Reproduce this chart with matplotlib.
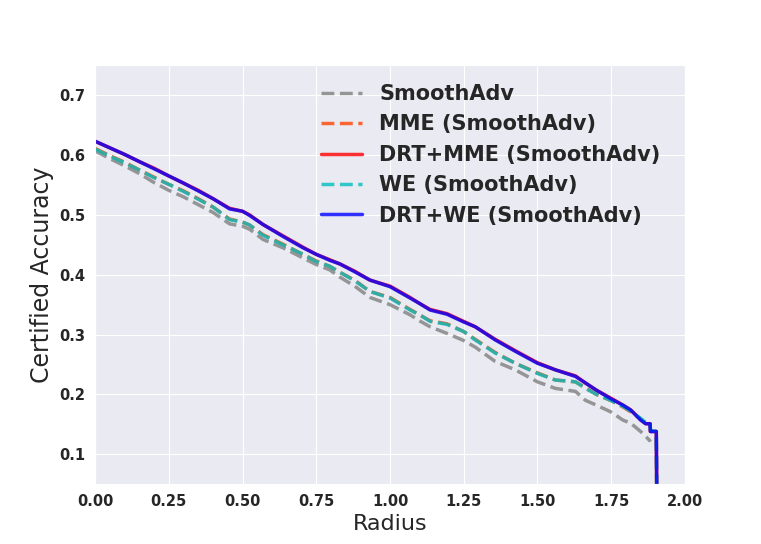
import numpy as np
import matplotlib
matplotlib.use('Agg')
import matplotlib.pyplot as plt
import seaborn as sns

sns.set_style('darkgrid')

# radius points
radius = [0.00, 0.05, 0.10, 0.15, 0.20, 0.25, 0.30, 0.35, 0.40, 0.456,
          0.50, 0.524, 0.569, 0.637, 0.705, 0.75, 0.796, 0.83, 0.88, 0.932,
          1.00, 1.068, 1.10, 1.136, 1.193, 1.25, 1.289, 1.357, 1.425, 1.50,
          1.561, 1.629, 1.663, 1.70, 1.748, 1.79, 1.816, 1.85, 1.867, 1.882,
          1.883, 1.903, 1.905]

smoothadv = [0.607, 0.594, 0.582, 0.569, 0.554, 0.541, 0.530, 0.517, 0.504, 0.485,
             0.481, 0.476, 0.459, 0.445, 0.428, 0.417, 0.408, 0.396, 0.381, 0.362,
             0.350, 0.333, 0.323, 0.313, 0.302, 0.290, 0.279, 0.255, 0.241, 0.221,
             0.210, 0.205, 0.190, 0.182, 0.171, 0.157, 0.152, 0.138, 0.130, 0.122,
             0.121, np.nan, np.nan]

we = [0.610, 0.598, 0.587, 0.575, 0.562, 0.551, 0.539, 0.526, 0.513, 0.492,
      0.488, 0.483, 0.466, 0.450, 0.434, 0.422, 0.414, 0.404, 0.390, 0.372,
      0.361, 0.341, 0.333, 0.322, 0.317, 0.305, 0.291, 0.269, 0.252, 0.235,
      0.224, 0.221, 0.210, 0.200, 0.190, 0.180, 0.172, 0.160, 0.153, 0.153,
      0.140, 0.138, 0.0]

mme = [0.611, 0.599, 0.588, 0.575, 0.563, 0.551, 0.540, 0.527, 0.513, 0.493,
       0.488, 0.483, 0.467, 0.451, 0.434, 0.423, 0.414, 0.404, 0.391, 0.372,
       0.362, 0.342, 0.333, 0.323, 0.318, 0.305, 0.292, 0.270, 0.252, 0.236,
       0.224, 0.221, 0.211, 0.200, 0.190, 0.179, 0.171, 0.159, 0.152, 0.152,
       0.139, 0.138, 0.0]

drt_we = [0.623, 0.612, 0.601, 0.589, 0.577, 0.565, 0.553, 0.540, 0.527, 0.510,
          0.506, 0.499, 0.484, 0.464, 0.445, 0.434, 0.424, 0.418, 0.405, 0.391,
          0.380, 0.361, 0.352, 0.341, 0.334, 0.321, 0.313, 0.291, 0.272, 0.252,
          0.241, 0.230, 0.219, 0.207, 0.193, 0.182, 0.174, 0.157, 0.151, 0.151,
          0.138, 0.138, 0.0]

drt_mme = [0.623, 0.612, 0.601, 0.589, 0.578, 0.565, 0.553, 0.541, 0.527, 0.511,
           0.506, 0.500, 0.484, 0.465, 0.446, 0.434, 0.425, 0.418, 0.406, 0.391,
           0.381, 0.362, 0.352, 0.342, 0.335, 0.322, 0.313, 0.292, 0.273, 0.253,
           0.241, 0.231, 0.219, 0.207, 0.194, 0.182, 0.174, 0.158, 0.151, 0.151,
           0.138, 0.138, 0.0]

fig = plt.figure(figsize=(7.61, 5.44), dpi=100)
ax = fig.add_subplot(111)

ax.plot(radius, smoothadv, '--', color='grey', alpha=0.8, lw=2.5, label='SmoothAdv')
ax.plot(radius, mme, '--', color='orangered', alpha=0.8, lw=2.5, label='MME (SmoothAdv)')
ax.plot(radius, drt_mme, '-', color='red', alpha=0.8, lw=2.5, label='DRT+MME (SmoothAdv)')
ax.plot(radius, we, '--', color='c', alpha=0.8, lw=2.5, label='WE (SmoothAdv)')
ax.plot(radius, drt_we, '-', color='blue', alpha=0.8, lw=2.5, label='DRT+WE (SmoothAdv)')

ax.set_xlim(0, 2.0)
ax.set_ylim(0.05, 0.75)
ax.set_xlabel('Radius', fontsize=16)
ax.set_ylabel('Certified Accuracy', fontsize=17)
plt.xticks(fontsize=10.5, fontweight='bold')
plt.yticks([0.1, 0.2, 0.3, 0.4, 0.5, 0.6, 0.7], fontsize=10.5, fontweight='bold')
ax.legend(loc='upper right', bbox_to_anchor=(0.99, 1.0), frameon=False,
          prop={'size': 15, 'weight': 'bold'})

plt.savefig('out.png', dpi=100)
